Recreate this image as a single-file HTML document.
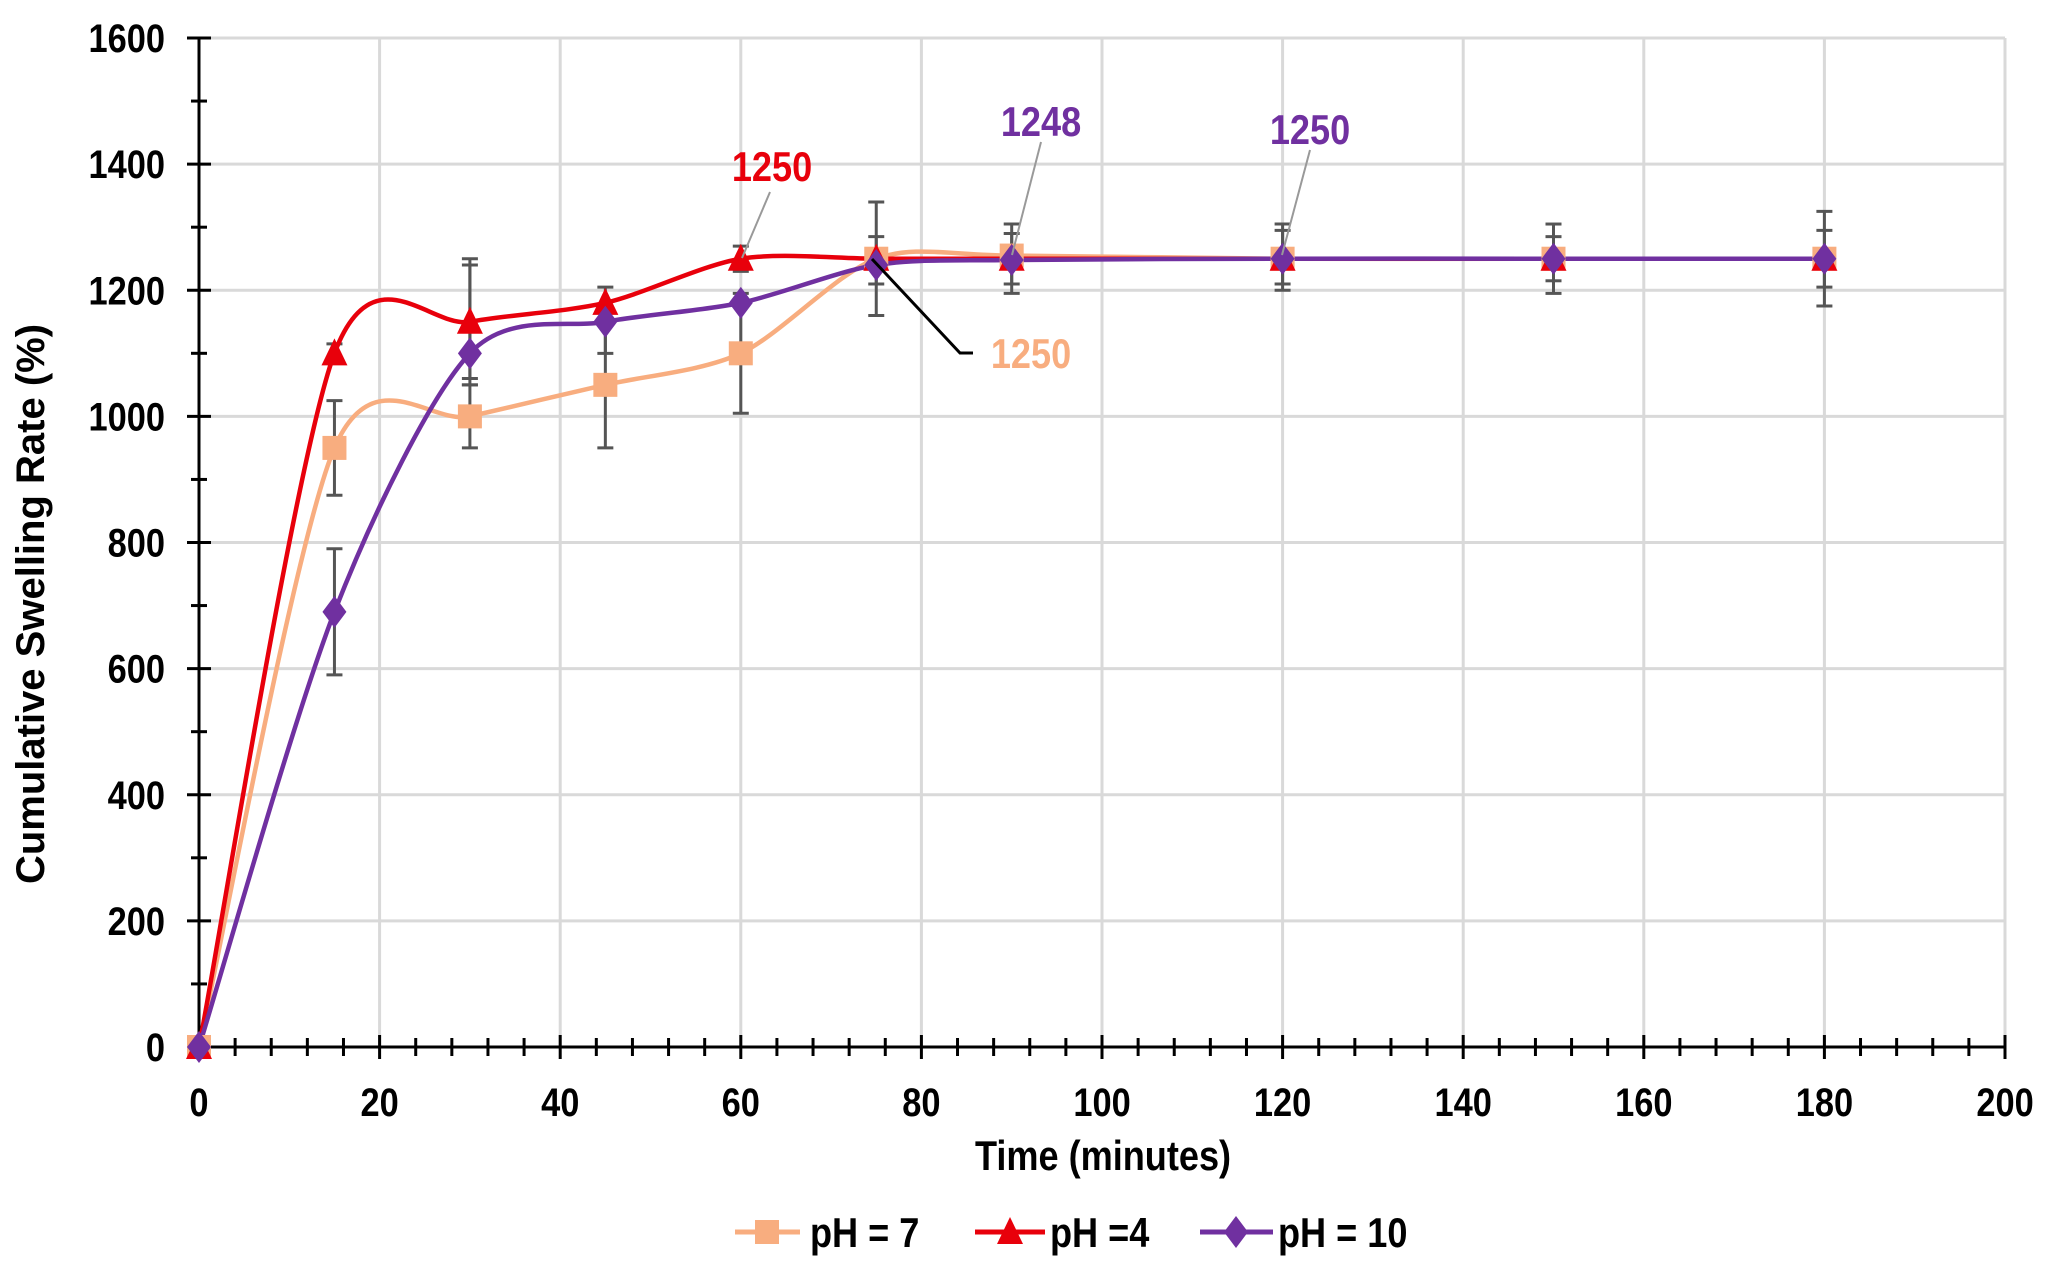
<!DOCTYPE html>
<html><head><meta charset="utf-8"><style>
html,body{margin:0;padding:0;background:#fff;}
svg{display:block;}
text{font-family:"Liberation Sans",sans-serif;font-weight:bold;}
</style></head><body>
<svg id="s" width="2048" height="1273" viewBox="0 0 2048 1273" xmlns="http://www.w3.org/2000/svg"></svg>
<script>
const S=document.getElementById('s');
const X0=199,XS=9.03,Y0=1047,YS=(1047-38)/1600;
const X=t=>X0+t*XS, Y=v=>Y0-v*YS;
let h='';
const nt=(x,y,s,txt,anchor,fill)=>`<text transform="translate(${x},${y}) scale(0.86,1)" font-size="${s}" text-anchor="${anchor||'start'}" fill="${fill||'#000'}">${txt}</text>`;
for(let v=200;v<=1600;v+=200)h+=`<line x1="${X0}" x2="2005" y1="${Y(v)}" y2="${Y(v)}" stroke="#d9d9d9" stroke-width="3"/>`;
for(let t=20;t<=200;t+=20)h+=`<line x1="${X(t)}" x2="${X(t)}" y1="38" y2="${Y0}" stroke="#d9d9d9" stroke-width="3"/>`;
h+=`<line x1="${X0}" x2="${X0}" y1="38" y2="${Y0}" stroke="#000" stroke-width="3"/>`;
h+=`<line x1="${X0}" x2="2005" y1="${Y0}" y2="${Y0}" stroke="#000" stroke-width="3"/>`;
for(let v=0;v<=1600;v+=100){const big=v%200==0;h+=`<line x1="${X0-(big?12:8)}" x2="${X0+(big?12:8)}" y1="${Y(v)}" y2="${Y(v)}" stroke="#000" stroke-width="3"/>`;
 if(big)h+=nt(165,Y(v)+14,40,v,'end');}
for(let t=0;t<=200;t+=4){const big=t%20==0;h+=`<line x1="${X(t)}" x2="${X(t)}" y1="${Y0-(big?12:9)}" y2="${Y0+(big?12:9)}" stroke="#000" stroke-width="3"/>`;
 if(big)h+=nt(X(t),1116,40,t,'middle');}
h+=nt(1103,1170,42,'Time (minutes)','middle');
h+=`<text transform="translate(44,604) rotate(-90)" font-size="40" text-anchor="middle">Cumulative Swelling Rate (%)</text>`;
const T=[0,15,30,45,60,75,90,120,150,180];
const S7=[0,950,1000,1050,1100,1250,1255,1250,1250,1250];
const S4=[0,1100,1150,1180,1250,1250,1250,1250,1250,1250];
const S10=[0,690,1100,1150,1180,1240,1248,1250,1250,1250];
const E=[[15,875,1025],[15,590,790],[15,1085,1115],[30,950,1050],[30,1050,1250],[30,1060,1240],[45,950,1150],[45,1100,1205],[60,1005,1195],[60,1230,1270],[75,1160,1340],[75,1210,1285],[90,1195,1305],[90,1210,1290],[120,1200,1305],[120,1210,1295],[150,1195,1305],[150,1215,1285],[180,1175,1325],[180,1205,1295]];
for(const [t,a,b] of E){const x=X(t);h+=`<g stroke="#555" stroke-width="3"><line x1="${x}" x2="${x}" y1="${Y(a)}" y2="${Y(b)}"/><line x1="${x-8}" x2="${x+8}" y1="${Y(a)}" y2="${Y(a)}"/><line x1="${x-8}" x2="${x+8}" y1="${Y(b)}" y2="${Y(b)}"/></g>`;}
function path(vs){const p=T.map((t,i)=>[X(t),Y(vs[i])]);let d=`M${p[0][0]},${p[0][1]}`;
 for(let i=0;i<p.length-1;i++){const p0=p[i-1]||p[i],p1=p[i],p2=p[i+1],p3=p[i+2]||p2;const k=1/7;
 d+=` C${p1[0]+(p2[0]-p0[0])*k},${p1[1]+(p2[1]-p0[1])*k} ${p2[0]-(p3[0]-p1[0])*k},${p2[1]-(p3[1]-p1[1])*k} ${p2[0]},${p2[1]}`;}return d;}
const C7='#f8ad7f',C4='#e8000b',C10='#7030a0';
h+=`<path d="${path(S7)}" fill="none" stroke="${C7}" stroke-width="4.5"/>`;
h+=`<path d="${path(S4)}" fill="none" stroke="${C4}" stroke-width="4.5"/>`;
h+=`<path d="${path(S10)}" fill="none" stroke="${C10}" stroke-width="4.5"/>`;
const sq=(x,y,c)=>`<rect x="${x-12}" y="${y-12}" width="24" height="24" fill="${c}"/>`;
const tri=(x,y,c)=>`<polygon points="${x},${y-15} ${x-13},${y+12} ${x+13},${y+12}" fill="${c}"/>`;
const dia=(x,y,c)=>`<polygon points="${x},${y-16} ${x+12},${y} ${x},${y+16} ${x-12},${y}" fill="${c}"/>`;
T.forEach((t,i)=>{h+=sq(X(t),Y(S7[i]),C7);});
T.forEach((t,i)=>{h+=tri(X(t),Y(S4[i]),C4);});
T.forEach((t,i)=>{h+=dia(X(t),Y(S10[i]),C10);});
h+=`<line x1="770" y1="192" x2="742" y2="258" stroke="#999" stroke-width="2"/>`+nt(772,181,42,'1250','middle',C4);
h+=`<line x1="1041" y1="142" x2="1012" y2="255" stroke="#999" stroke-width="2"/>`+nt(1041,136,42,'1248','middle',C10);
h+=`<line x1="1310" y1="150" x2="1282" y2="255" stroke="#999" stroke-width="2"/>`+nt(1310,144,42,'1250','middle',C10);
h+=`<polyline points="973,353 960,353 872,259" fill="none" stroke="#000" stroke-width="3"/>`+nt(1031,368,42,'1250','middle',C7);
const LY=1232;
h+=`<line x1="735" x2="800" y1="${LY}" y2="${LY}" stroke="${C7}" stroke-width="5"/>`+sq(767,LY,C7)+nt(810,LY+15,42,'pH = 7');
h+=`<line x1="975" x2="1045" y1="${LY}" y2="${LY}" stroke="${C4}" stroke-width="5"/>`+tri(1010,LY,C4)+nt(1050,LY+15,42,'pH =4');
h+=`<line x1="1200" x2="1273" y1="${LY}" y2="${LY}" stroke="${C10}" stroke-width="5"/>`+dia(1236,LY,C10)+nt(1278,LY+15,42,'pH = 10');
S.innerHTML=h;
</script>
</body></html>
